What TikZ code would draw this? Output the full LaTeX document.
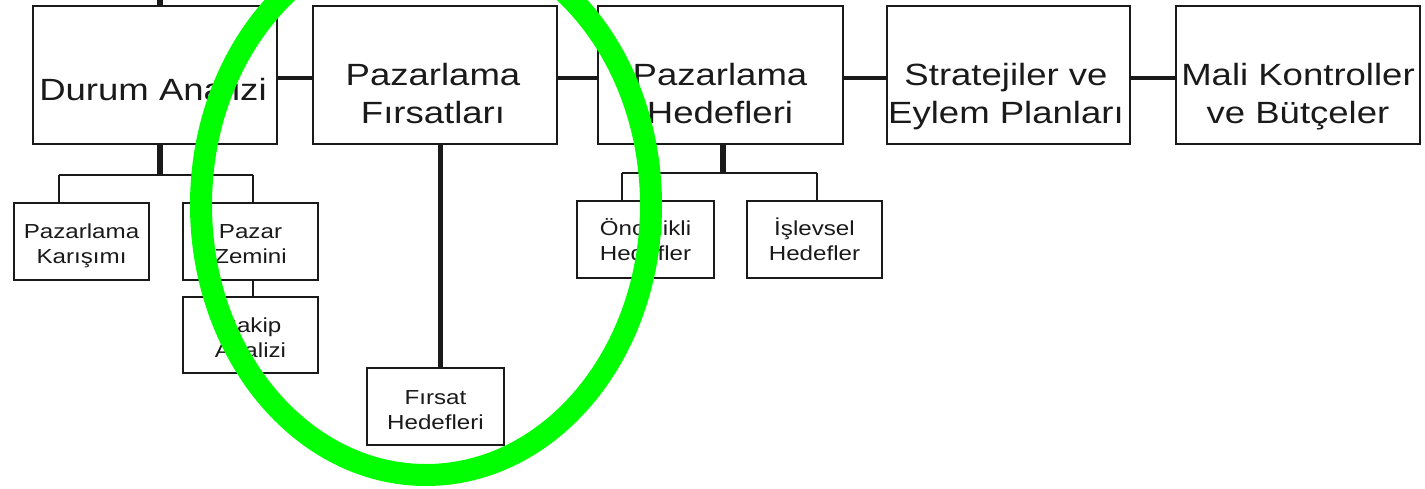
\documentclass[tikz,border=0pt]{standalone}
\usepackage{fontspec}
\setmainfont{Liberation Sans}[FakeStretch=1.19]
% fixed first-line height so labels line up whatever their accents
\newcommand\capline{\rule{0pt}{0.95em}}
\definecolor{ink}{HTML}{1A1A1A}
\definecolor{marker}{RGB}{0,255,0}
\begin{document}
\begin{tikzpicture}[x=1pt,y=-1pt,
  topbox/.style={draw=ink, line width=2.6pt, inner sep=0pt,
    minimum width=244pt, minimum height=138pt},
  subbox/.style={draw=ink, line width=2.2pt, inner sep=0pt,
    minimum width=135pt, minimum height=77pt},
  toptext/.style={anchor=north, inner sep=0pt, align=center, text=ink,
    font=\fontsize{30.7}{38}\selectfont},
  subtext/.style={anchor=north, inner sep=0pt, align=center, text=ink,
    font=\fontsize{20.3}{25}\selectfont},
  link/.style={draw=ink, line width=3.6pt},
  heavy/.style={draw=ink, line width=6.5pt},
  medium/.style={draw=ink, line width=5pt},
  branch/.style={draw=ink, line width=2.6pt},
]
\useasboundingbox (0,0) rectangle (1425,488);

% main row
\node[topbox] (b1) at (155,75) {};
\node[topbox] (b2) at (435,75) {};
\node[topbox, minimum width=245pt] (b3) at (720.5,75) {};
\node[topbox, minimum width=243pt] (b4) at (1008.5,75) {};
\node[topbox] (b5) at (1298,75) {};

\node[toptext] (t1) at (153,70.8) {\capline Durum Analizi};
\node[toptext] (t2) at (433,55.8) {\capline Pazarlama\\Fırsatları};
\node[toptext] (t3) at (720,55.8) {\capline Pazarlama\\Hedefleri};
\node[toptext] (t4) at (1006,55.8) {\capline Stratejiler ve\\Eylem Planları};
\node[toptext] (t5) at (1298,55.8) {\capline Mali Kontroller\\ve Bütçeler};

% sub-boxes
\node[subbox] (k1) at (81.5,241.5) {};
\node[subbox] (k2) at (250.5,241.5) {};
\node[subbox, minimum height=76pt] (k3) at (250.5,335) {};
\node[subbox, minimum width=137pt] (f1) at (435.5,406.5) {};
\node[subbox, minimum width=137pt] (h1) at (645.5,239.5) {};
\node[subbox] (h2) at (814.5,239.5) {};

\node[subtext] (s1) at (81.5,218.7) {\capline Pazarlama\\Karışımı};
\node[subtext] (s2) at (250.5,218.7) {\capline Pazar\\Zemini};
\node[subtext] (s3) at (250.5,312.7) {\capline Rakip\\Analizi};
\node[subtext] (s4) at (435.5,384.7) {\capline Fırsat\\Hedefleri};
\node[subtext] (s5) at (645.5,215.7) {\capline Öncelikli\\Hedefler};
\node[subtext] (s6) at (814.5,215.7) {\capline İşlevsel\\Hedefler};

% connectors along the main row
\coordinate (up1) at (160,0);
\draw[heavy] (up1) -- (b1.north -| up1);
\draw[link] ([yshift=-3pt]b1.east) -- ([yshift=-3pt]b2.west);
\draw[link] ([yshift=-3pt]b2.east) -- ([yshift=-3pt]b3.west);
\draw[link] ([yshift=-3pt]b3.east) -- ([yshift=-3pt]b4.west);
\draw[link] ([yshift=-3pt]b4.east) -- ([yshift=-3pt]b5.west);

% Durum Analizi branch
\coordinate (j1) at (160,175);
\coordinate (j1l) at (59,175);
\coordinate (j1r) at (253,175);
\draw[heavy] (b1.south -| j1) -- (j1);
\draw[branch] (j1l) -- (j1r);
\draw[branch] (j1l) -- (k1.north -| j1l);
\draw[branch] (j1r) -- (k2.north -| j1r);
\draw[branch] (k2.south -| j1r) -- (k3.north -| j1r);

% Pazarlama Fırsatları branch
\coordinate (j2) at (440,300);
\draw[medium] (b2.south -| j2) -- (f1.north -| j2);

% Pazarlama Hedefleri branch
\coordinate (j3) at (723,173);
\coordinate (j3l) at (622,173);
\coordinate (j3r) at (817,173);
\draw[heavy] (b3.south -| j3) -- (j3);
\draw[branch] (j3l) -- (j3r);
\draw[branch] (j3l) -- (h1.north -| j3l);
\draw[branch] (j3r) -- (h2.north -| j3r);

% green highlight ring
\draw[marker, line width=22pt] (426,205) ellipse [x radius=225, y radius=270];
\end{tikzpicture}
\end{document}
